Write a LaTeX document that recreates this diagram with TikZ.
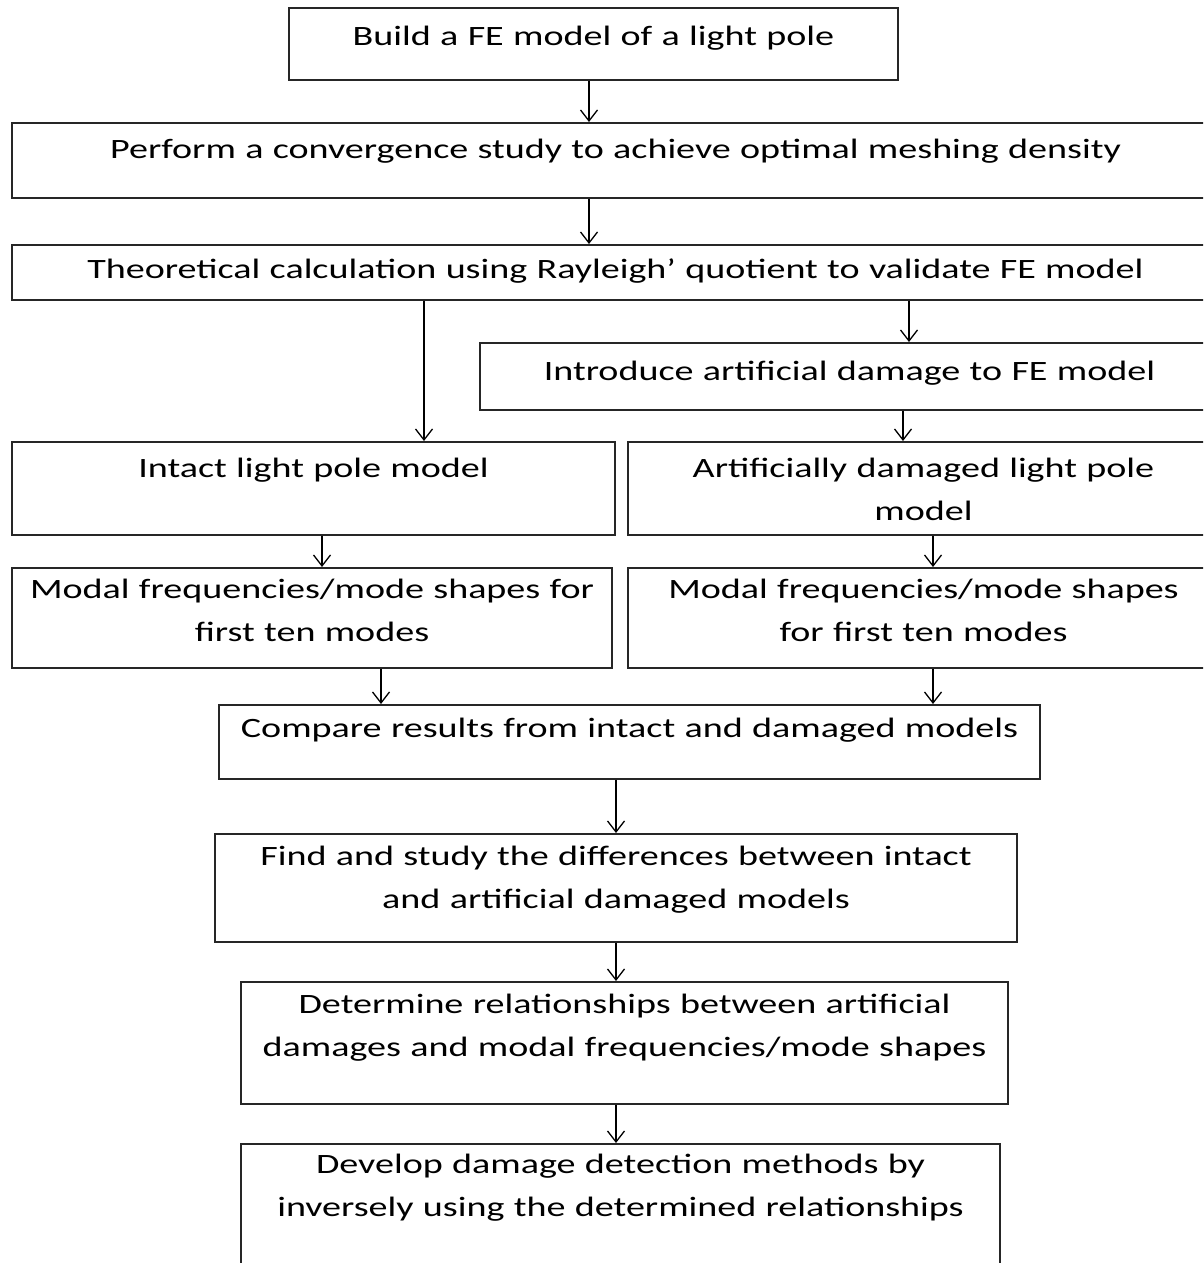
\documentclass[tikz,border=0pt]{standalone}
\usepackage{fontspec}
\usepackage{tikz}
\usetikzlibrary{arrows.meta}

\newfontfamily\boxfont[FakeStretch=1.36]{Carlito}

\begin{document}
\begin{tikzpicture}[x=1pt, y=-1pt,
        stepbox/.style={draw=black!85, line width=1.6pt, inner xsep=0pt, inner ysep=0pt,
            align=center, anchor=north, font=\boxfont\fontsize{28}{43}\selectfont},
        arr/.style={line width=1.3pt, -{Straight Barb[length=11pt, width=17pt, line width=1.3pt]}}]
        \useasboundingbox (0,0) rectangle (1203,1263);
        \clip (0,0) rectangle (1203,1263);

        % Draw the boxes (text sits near the top of each box)
        \node[stepbox, text width=609pt, text height=38pt, text depth=34pt] (build) at (593.5,7)
            {Build a FE model of a light pole};
        \node[stepbox, text width=1207pt, text height=36pt, text depth=39pt] (converge) at (615.5,122)
            {Perform a convergence study to achieve optimal meshing density};
        \node[stepbox, text width=1207pt, text height=34pt, text depth=21pt] (rayleigh) at (615.5,244)
            {Theoretical calculation using Rayleigh’ quotient to validate FE model};
        \node[stepbox, text width=739pt, text height=38pt, text depth=29pt] (introduce) at (849.5,342)
            {Introduce artificial damage to FE model};
        \node[stepbox, text width=603pt, text height=36pt, text depth=57pt] (intact) at (313.5,441)
            {Intact light pole model};
        \node[stepbox, text width=591pt, text height=36pt, text depth=57pt] (damaged) at (923.5,441)
            {Artificially damaged light pole\\ model};
        \node[stepbox, text width=600pt, text height=31pt, text depth=69pt] (modesint) at (312,567)
            {Modal frequencies/mode shapes for\\ first ten modes};
        \node[stepbox, text width=591pt, text height=31pt, text depth=69pt] (modesdam) at (923.5,567)
            {Modal frequencies/mode shapes\\ for first ten modes};
        \node[stepbox, text width=821pt, text height=33pt, text depth=41pt] (compare) at (629.5,704)
            {Compare results from intact and damaged models};
        \node[stepbox, text width=802pt, text height=32pt, text depth=76pt] (differ) at (616,833)
            {Find and study the differences between intact\\ and artificial damaged models};
        \node[stepbox, text width=767pt, text height=32pt, text depth=90pt] (relation) at (624.5,981)
            {Determine relationships between artificial\\ damages and modal frequencies/mode shapes};
        \node[stepbox, text width=759pt, text height=30pt, text depth=140pt] (develop) at (620.5,1143)
            {Develop damage detection methods by\\ inversely using the determined relationships};

        % Draw the arrows
        \draw[arr] (589,0 |- build.south) -- (589,0 |- converge.north);
        \draw[arr] (589,0 |- converge.south) -- (589,0 |- rayleigh.north);
        \draw[arr] (424,0 |- rayleigh.south) -- (424,0 |- intact.north);
        \draw[arr] (909,0 |- rayleigh.south) -- (909,0 |- introduce.north);
        \draw[arr] (903,0 |- introduce.south) -- (903,0 |- damaged.north);
        \draw[arr] (322,0 |- intact.south) -- (322,0 |- modesint.north);
        \draw[arr] (933,0 |- damaged.south) -- (933,0 |- modesdam.north);
        \draw[arr] (381,0 |- modesint.south) -- (381,0 |- compare.north);
        \draw[arr] (933,0 |- modesdam.south) -- (933,0 |- compare.north);
        \draw[arr] (616,0 |- compare.south) -- (616,0 |- differ.north);
        \draw[arr] (616,0 |- differ.south) -- (616,0 |- relation.north);
        \draw[arr] (616,0 |- relation.south) -- (616,0 |- develop.north);
\end{tikzpicture}
\end{document}
